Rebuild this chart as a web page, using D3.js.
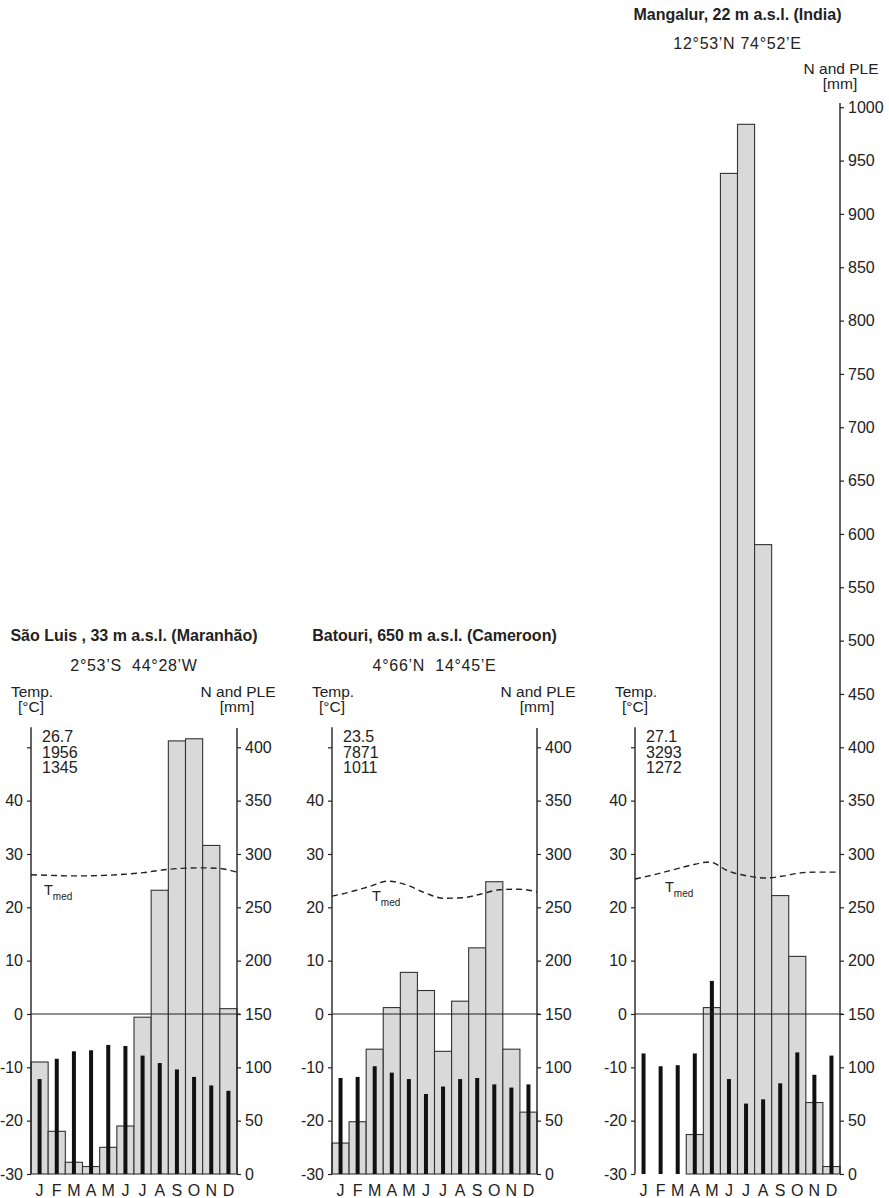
<!DOCTYPE html>
<html>
<head>
<meta charset="utf-8">
<script src="https://cdn.jsdelivr.net/npm/d3@7"></script>
<style>
  body { margin: 0; background: #fff; }
  svg { display: block; font-family: "Liberation Sans", Arial, Helvetica, sans-serif; }
</style>
</head>
<body>
<script>
// ---- Data ----------------------------------------------------------------
const months = ["J", "F", "M", "A", "M", "J", "J", "A", "S", "O", "N", "D"];

const tempTicks = [-30, -20, -10, 0, 10, 20, 30, 40, 50];
const mmTicksLow = [0, 50, 100, 150, 200, 250, 300, 350, 400];
const mmTicksHigh = [0, 50, 100, 150, 200, 250, 300, 350, 400, 450, 500,
                     550, 600, 650, 700, 750, 800, 850, 900, 950, 1000];

const stationTitles = [
  "São Luis , 33 m a.s.l. (Maranhão)",
  "Batouri, 650 m a.s.l. (Cameroon)",
  "Mangalur, 22 m a.s.l. (India)"
];
const stationCoords = ["2°53’S  44°28’W", "4°66’N  14°45’E", "12°53’N 74°52’E"];
const stationStats = [
  ["26.7", "1956", "1345"],
  ["23.5", "7871", "1011"],
  ["27.1", "3293", "1272"]
];

// monthly precipitation N [mm]
const saoLuisN  = [105, 40, 11, 7, 25, 45, 147, 266, 406, 408, 308, 155];
const batouriN  = [29, 49, 117, 156, 189, 172, 115, 162, 212, 274, 117, 58];
const mangalurN = [0, 0, 0, 37, 156, 938, 984, 590, 261, 204, 67, 7];

// monthly potential evaporation PLE [mm]
const saoLuisPLE  = [89, 108, 115, 116, 121, 120, 111, 104, 98, 91, 83, 78];
const batouriPLE  = [90, 91, 101, 95, 89, 75, 82, 89, 90, 84, 81, 84];
const mangalurPLE = [113, 101, 102, 113, 181, 89, 66, 70, 85, 114, 93, 111];

// mean monthly temperature T_med [°C]
const saoLuisT  = [26.1, 26.0, 25.9, 25.9, 26.0, 26.2, 26.5, 27.0, 27.3, 27.4, 27.3, 26.6];
const batouriT  = [22.1, 22.9, 23.9, 24.9, 24.2, 22.7, 21.7, 21.8, 22.5, 23.3, 23.4, 22.9];
const mangalurT = [25.3, 26.1, 27.0, 27.9, 28.5, 26.8, 25.9, 25.5, 25.9, 26.5, 26.6, 26.6];

const stationN   = [saoLuisN, batouriN, mangalurN];
const stationPLE = [saoLuisPLE, batouriPLE, mangalurPLE];
const stationT   = [saoLuisT, batouriT, mangalurT];
const stationMmTicks = [mmTicksLow, mmTicksLow, mmTicksHigh];

// ---- Layout ----------------------------------------------------------------
const W = 889, H = 1198;
const yBase = 1174, yTop400 = 747.3;
const ink = "#222";
const layout = [
  { left: 31,  right: 237, titleY: 641, coordY: 671, unitY: 697, unitY2: 712, axisTopMm: 418,  tLabel: [13, 895] },
  { left: 332, right: 537, titleY: 641, coordY: 671, unitY: 697, unitY2: 712, axisTopMm: 418,  tLabel: [40, 901] },
  { left: 635, right: 840, titleY: 20,  coordY: 49,  unitY: 74,  unitY2: 89,  axisTopMm: 1004, tLabel: [30, 892] }
];

const svg = d3.select("body").append("svg")
  .attr("width", W).attr("height", H);

// shared vertical scales: 10 °C corresponds to 50 mm
const yT  = d3.scaleLinear().domain([-30, 50]).range([yBase, yTop400]);
const yMm = d3.scaleLinear().domain([0, 400]).range([yBase, yTop400]);

layout.forEach((p, s) => {
  const g = svg.append("g");
  const x = d3.scaleBand().domain(d3.range(12)).range([p.left, p.right]).padding(0);
  const xp = d3.scalePoint().domain(d3.range(12)).range([p.left, p.right]);
  const cx = (p.left + p.right) / 2;

  // header
  g.append("text").attr("x", cx).attr("y", p.titleY)
    .attr("text-anchor", "middle").attr("font-size", 16).attr("font-weight", "bold")
    .attr("fill", ink).text(stationTitles[s]);
  g.append("text").attr("x", cx).attr("y", p.coordY)
    .attr("text-anchor", "middle").attr("font-size", 16).attr("letter-spacing", 0.7)
    .attr("fill", ink).style("white-space", "pre").text(stationCoords[s]);

  // axis titles
  g.append("text").attr("x", p.left + 1).attr("y", 697).attr("text-anchor", "middle")
    .attr("font-size", 15.5).attr("fill", ink).text("Temp.");
  g.append("text").attr("x", p.left).attr("y", 712).attr("text-anchor", "middle")
    .attr("font-size", 15.5).attr("fill", ink).text("[°C]");
  g.append("text").attr("x", p.right + 1).attr("y", p.unitY).attr("text-anchor", "middle")
    .attr("font-size", 15.5).attr("fill", ink).text("N and PLE");
  g.append("text").attr("x", p.right).attr("y", p.unitY2).attr("text-anchor", "middle")
    .attr("font-size", 15.5).attr("fill", ink).text("[mm]");

  // annual summary figures
  stationStats[s].forEach((t, i) => {
    g.append("text").attr("x", p.left + 11).attr("y", 742 + i * 15.5)
      .attr("font-size", 16).attr("fill", ink).text(t);
  });

  // precipitation bars
  g.append("g").selectAll("rect")
    .data(stationN[s].map((v, i) => ({ v, i })).filter(d => d.v > 0))
    .join("rect")
    .attr("x", d => x(d.i)).attr("width", x.bandwidth())
    .attr("y", d => yMm(d.v)).attr("height", d => yBase - yMm(d.v))
    .attr("fill", "#d9d9d9").attr("stroke", "#333").attr("stroke-width", 1.1);

  // potential evaporation bars
  g.append("g").selectAll("rect")
    .data(stationPLE[s].map((v, i) => ({ v, i })))
    .join("rect")
    .attr("x", d => x(d.i) + x.bandwidth() / 2 - 2).attr("width", 4)
    .attr("y", d => yMm(d.v)).attr("height", d => yBase - yMm(d.v))
    .attr("fill", "#111");

  // 0 °C reference line
  g.append("line").attr("x1", p.left).attr("x2", p.right + 3)
    .attr("y1", yT(0)).attr("y2", yT(0))
    .attr("stroke", ink).attr("stroke-width", 1.2);

  // mean temperature curve
  g.append("path")
    .datum(stationT[s])
    .attr("d", d3.line().x((d, i) => xp(i)).y(d => yT(d)).curve(d3.curveMonotoneX))
    .attr("fill", "none").attr("stroke", ink).attr("stroke-width", 1.4)
    .attr("stroke-dasharray", "6,4");

  const tl = g.append("text").attr("x", p.left + p.tLabel[0]).attr("y", p.tLabel[1])
    .attr("font-size", 14.5).attr("fill", ink);
  tl.append("tspan").text("T");
  tl.append("tspan").attr("font-size", 10).attr("dy", 5).text("med");

  // left temperature axis
  const gl = g.append("g").attr("transform", `translate(${p.left},0)`)
    .call(d3.axisLeft(yT).tickValues(tempTicks)
      .tickFormat(d => d === 50 ? "" : String(d)).tickSize(4).tickPadding(4));
  gl.select(".domain").remove();
  gl.append("line").attr("y1", yT(53.75)).attr("y2", yBase).attr("stroke", ink).attr("stroke-width", 1.4);

  // right precipitation axis
  const gr = g.append("g").attr("transform", `translate(${p.right},0)`)
    .call(d3.axisRight(yMm).tickValues(stationMmTicks[s])
      .tickFormat(d => String(d)).tickSize(4).tickPadding(4));
  gr.select(".domain").remove();
  gr.append("line").attr("y1", yMm(p.axisTopMm)).attr("y2", yBase).attr("stroke", ink).attr("stroke-width", 1.4);

  [gl, gr].forEach(a => {
    a.attr("font-family", null).attr("font-size", 16);
    a.selectAll(".tick line").attr("stroke", ink).attr("stroke-width", 1.2);
    a.selectAll(".tick text").attr("fill", ink);
  });

  // month labels
  g.append("g").selectAll("text")
    .data(months)
    .join("text")
    .attr("x", (d, i) => x(i) + x.bandwidth() / 2).attr("y", 1196)
    .attr("text-anchor", "middle").attr("font-size", 16).attr("fill", ink)
    .text(d => d);
});
</script>
</body>
</html>
